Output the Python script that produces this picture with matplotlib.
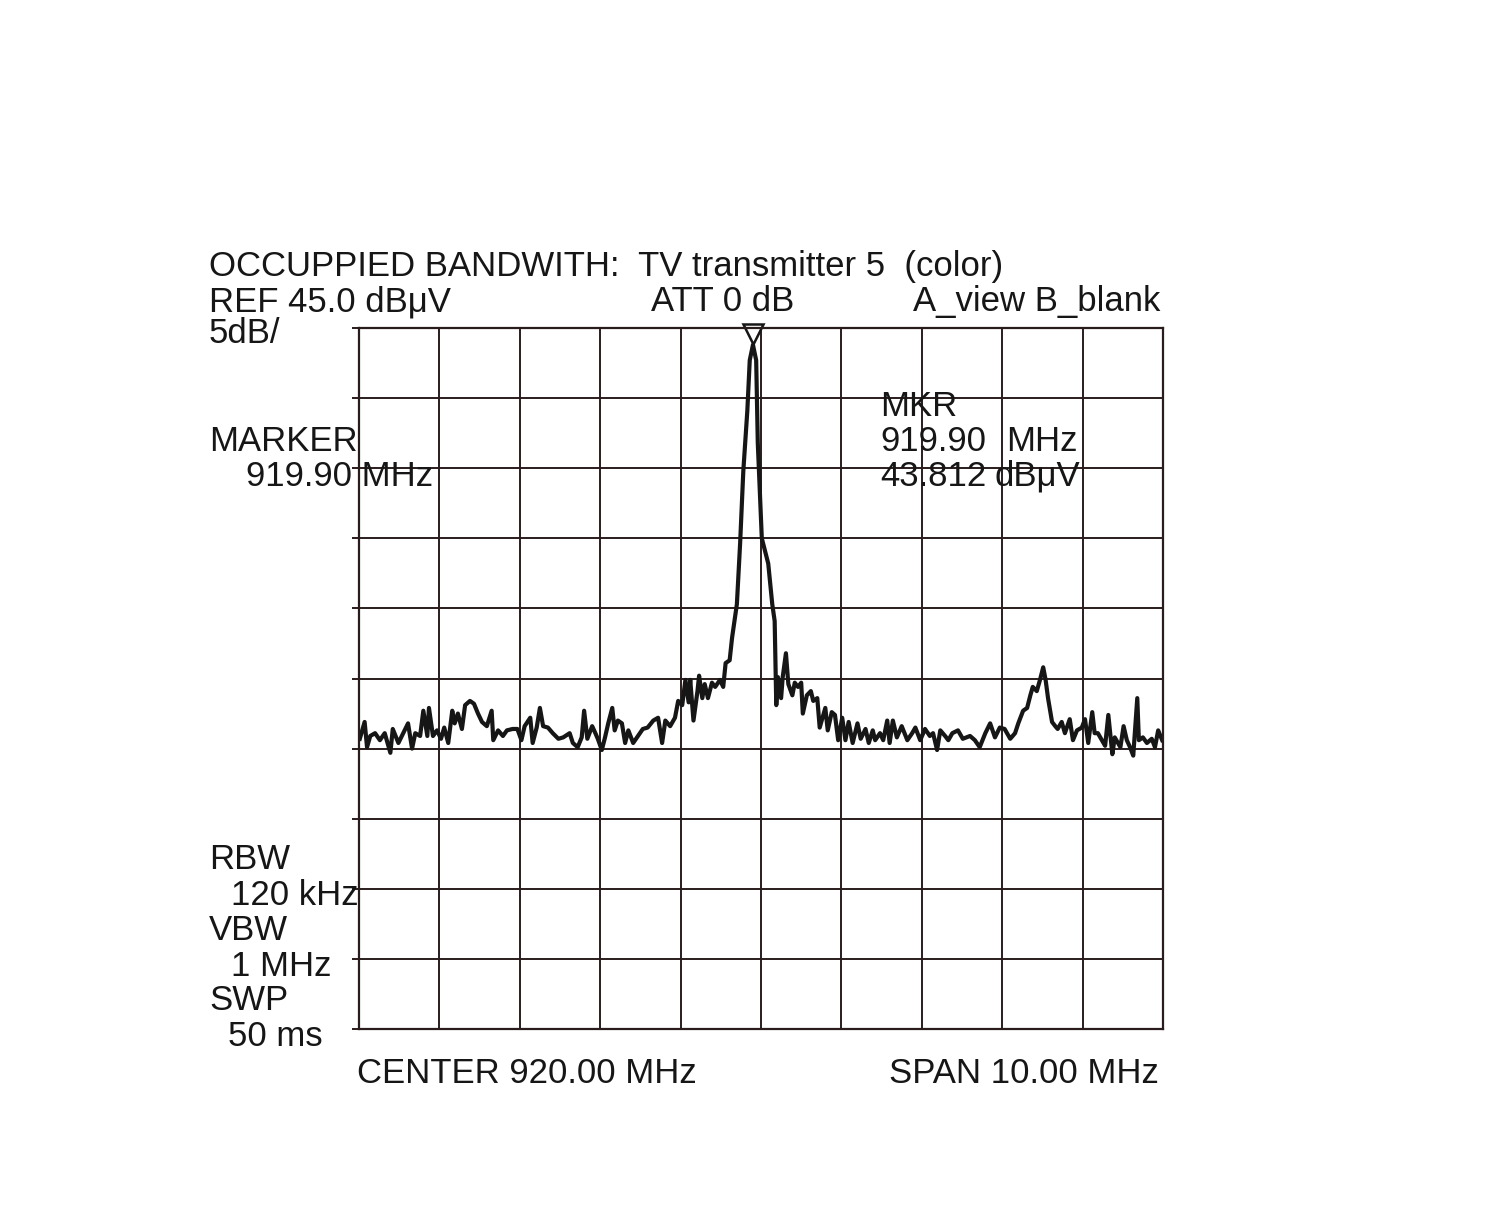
import matplotlib
matplotlib.use("Agg")
import matplotlib.pyplot as plt
import numpy as np
from matplotlib.transforms import offset_copy

# sweep settings
center_mhz = 920.0
span_mhz = 10.0
ref_level = 45.0
db_per_div = 5.0
marker_freq = 919.90
marker_level = 43.812

# trace (MHz, dBuV)
freq_mhz = [
    915.01, 915.07, 915.10, 915.14, 915.20, 915.26, 915.32, 915.39, 915.42, 915.49,
    915.55, 915.61, 915.66, 915.70, 915.76, 915.80, 915.85, 915.87, 915.92, 915.97,
    916.02, 916.06, 916.11, 916.16, 916.19, 916.23, 916.28, 916.32, 916.38, 916.43,
    916.48, 916.53, 916.59, 916.65, 916.67, 916.73, 916.79, 916.84, 916.91, 916.97,
    917.02, 917.06, 917.13, 917.16, 917.21, 917.25, 917.29, 917.35, 917.41, 917.48,
    917.54, 917.62, 917.66, 917.72, 917.77, 917.80, 917.84, 917.90, 917.94, 917.97,
    918.02, 918.06, 918.10, 918.15, 918.18, 918.22, 918.27, 918.31, 918.35, 918.41,
    918.47, 918.53, 918.59, 918.66, 918.72, 918.77, 918.81, 918.87, 918.93, 918.97,
    919.02, 919.06, 919.10, 919.12, 919.16, 919.21, 919.23, 919.27, 919.30, 919.34,
    919.39, 919.43, 919.49, 919.53, 919.56, 919.61, 919.64, 919.70, 919.74, 919.78,
    919.83, 919.86, 919.90, 919.94, 919.96, 920.01, 920.09, 920.14, 920.17, 920.19,
    920.21, 920.25, 920.27, 920.31, 920.34, 920.39, 920.42, 920.46, 920.50, 920.52,
    920.57, 920.62, 920.65, 920.70, 920.73, 920.80, 920.83, 920.88, 920.92, 920.96,
    921.01, 921.05, 921.09, 921.14, 921.20, 921.24, 921.30, 921.34, 921.39, 921.42,
    921.48, 921.52, 921.57, 921.60, 921.64, 921.69, 921.75, 921.82, 921.88, 921.92,
    921.98, 922.04, 922.10, 922.14, 922.19, 922.23, 922.29, 922.33, 922.38, 922.45,
    922.51, 922.60, 922.66, 922.72, 922.79, 922.85, 922.91, 922.97, 923.03, 923.10,
    923.16, 923.20, 923.26, 923.31, 923.35, 923.38, 923.43, 923.47, 923.51, 923.54,
    923.57, 923.62, 923.66, 923.69, 923.74, 923.78, 923.84, 923.88, 923.93, 923.99,
    924.03, 924.07, 924.12, 924.15, 924.19, 924.24, 924.28, 924.32, 924.37, 924.40,
    924.47, 924.51, 924.55, 924.59, 924.63, 924.68, 924.70, 924.75, 924.80, 924.86,
    924.90, 924.94, 924.99,
]
level_dbuv = [
    15.7, 16.9, 15.1, 15.9, 16.1, 15.6, 16.1, 14.7, 16.4, 15.4,
    16.1, 16.8, 15.0, 16.1, 15.9, 17.7, 15.9, 17.9, 15.9, 16.3,
    15.7, 16.5, 15.4, 17.7, 16.8, 17.5, 16.4, 18.1, 18.4, 18.2,
    17.5, 16.9, 16.6, 17.7, 15.6, 16.3, 15.9, 16.3, 16.4, 16.4,
    15.6, 16.6, 17.2, 15.4, 16.5, 17.9, 16.6, 16.5, 16.1, 15.7,
    15.8, 16.1, 15.4, 15.1, 15.8, 17.7, 15.7, 16.6, 16.1, 15.7,
    14.9, 15.8, 16.8, 17.9, 16.3, 17.0, 16.8, 15.4, 16.3, 15.4,
    15.9, 16.4, 16.5, 17.0, 17.2, 15.4, 17.0, 16.6, 17.2, 18.4,
    18.1, 19.9, 18.3, 19.9, 17.0, 19.1, 20.2, 18.6, 19.6, 18.6,
    19.7, 19.4, 19.9, 19.4, 21.1, 21.3, 22.9, 25.3, 29.6, 34.8,
    39.1, 42.7, 43.8, 42.7, 36.8, 30.0, 28.2, 25.3, 24.1, 18.1,
    20.1, 18.6, 20.1, 21.8, 19.6, 18.8, 19.7, 19.4, 19.7, 17.5,
    18.8, 19.1, 18.4, 18.6, 16.5, 17.9, 16.3, 17.6, 17.4, 15.6,
    17.2, 15.6, 16.9, 15.4, 16.8, 15.7, 16.4, 15.4, 16.3, 15.6,
    16.1, 15.6, 17.0, 15.4, 17.0, 15.8, 16.6, 15.6, 16.1, 16.5,
    15.6, 16.4, 15.9, 16.1, 14.9, 16.3, 15.9, 15.6, 16.1, 16.3,
    15.7, 15.9, 15.6, 15.1, 16.1, 16.8, 15.8, 16.5, 16.4, 15.7,
    16.1, 16.8, 17.7, 17.9, 18.8, 19.4, 19.1, 19.9, 20.8, 19.9,
    18.6, 16.9, 16.6, 16.4, 16.9, 16.1, 17.1, 15.6, 16.3, 16.5,
    17.1, 15.4, 17.6, 16.1, 16.1, 15.6, 15.2, 17.4, 14.6, 15.8,
    15.1, 16.6, 15.6, 15.1, 14.5, 18.6, 15.6, 15.8, 15.4, 15.7,
    15.1, 16.3, 15.6,
]

W, H = 1489, 1227
INK = "#161616"
GRID = "#2a1c1c"

plt.rcParams["font.family"] = ["Liberation Sans", "DejaVu Sans"]


def put(fig, x, y, s, ha="left"):
    # x, y in pixels (edge, baseline) from the top left corner
    fig.text(x / W, 1 - y / H, s, fontsize=25, color=INK, va="baseline", ha=ha)


def main():
    fig = plt.figure(figsize=(W / 100, H / 100), dpi=100)
    ax = fig.add_axes([359 / W, (H - 1029) / H, 804 / W, 701 / H])

    ax.set_xlim(center_mhz - span_mhz / 2, center_mhz + span_mhz / 2)
    ax.set_ylim(ref_level - 10 * db_per_div, ref_level)
    ax.set_xticks(np.arange(center_mhz - span_mhz / 2, center_mhz + span_mhz / 2 + 0.01, span_mhz / 10))
    ax.set_yticks(np.arange(ref_level - 10 * db_per_div, ref_level + 0.01, db_per_div))
    ax.grid(True, color=GRID, linewidth=1.4)
    ax.tick_params(labelleft=False, labelbottom=False, bottom=False,
                   left=True, length=5, width=1.4, color=GRID)
    for sp in ax.spines.values():
        sp.set_color(GRID)
        sp.set_linewidth(1.6)

    ax.plot(freq_mhz, level_dbuv, color=INK, linewidth=3.0, solid_joinstyle="round")

    # marker triangle, tip on the peak
    tri = offset_copy(ax.transData, fig=fig, y=10.4, units="dots")
    ax.plot([marker_freq], [marker_level], marker="v", markersize=15, mfc="none",
            mec=INK, mew=1.8, transform=tri, clip_on=False)

    put(fig, 209, 276, "OCCUPPIED BANDWITH:  TV transmitter 5  (color)")
    put(fig, 209, 311, "REF 45.0 dBμV")
    put(fig, 651, 311, "ATT 0 dB")
    put(fig, 1160, 311, "A_view B_blank", ha="right")
    put(fig, 209, 343, "5dB/")

    put(fig, 209, 451, "MARKER")
    put(fig, 246, 486, "%.2f MHz" % marker_freq)

    put(fig, 880, 416, "MKR")
    put(fig, 880, 451, "%.2f" % marker_freq)
    put(fig, 1078, 451, "MHz", ha="right")
    put(fig, 880, 486, "%.3f" % marker_level)
    put(fig, 1080, 486, "dBμV", ha="right")

    put(fig, 209, 869, "RBW")
    put(fig, 231, 905, "120 kHz")
    put(fig, 209, 940, "VBW")
    put(fig, 231, 976, "1 MHz")
    put(fig, 209, 1010, "SWP")
    put(fig, 228, 1046, "50 ms")

    put(fig, 357, 1083, "CENTER %.2f MHz" % center_mhz)
    put(fig, 889, 1083, "SPAN %.2f MHz" % span_mhz)

    fig.savefig("out.png", dpi=100)


if __name__ == "__main__":
    main()
